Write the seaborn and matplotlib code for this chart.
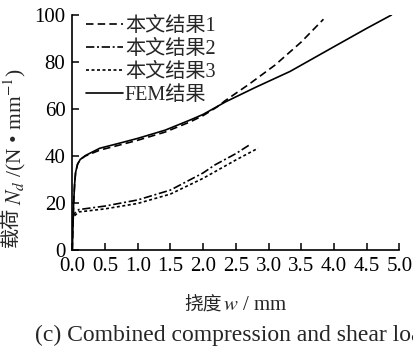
import numpy as np
import pandas as pd
import matplotlib
matplotlib.use("Agg")
import matplotlib.pyplot as plt
import seaborn as sns

# ---- data ----
fem_x = [0.0, 0.01, 0.02, 0.035, 0.05, 0.08, 0.12, 0.2, 0.42, 0.7, 1.0, 1.42, 1.8, 2.0, 2.34, 2.8, 3.33, 4.0, 4.5, 4.88]
fem_y = [0.0, 10.0, 20.0, 28.0, 33.0, 36.5, 38.5, 40.2, 43.3, 45.3, 47.5, 51.0, 55.3, 57.7, 63.0, 69.2, 76.0, 86.5, 94.3, 100.0]

r1_x = [0.0, 0.01, 0.02, 0.035, 0.05, 0.08, 0.12, 0.2, 0.42, 0.7, 1.0, 1.42, 1.8, 2.0, 2.21, 2.34, 2.7, 3.1, 3.5, 3.84]
r1_y = [0.0, 10.0, 20.0, 28.0, 33.0, 36.5, 38.5, 40.0, 42.5, 44.5, 46.7, 50.2, 54.5, 57.2, 60.8, 63.6, 70.5, 78.7, 88.5, 98.2]

r2_x = [0.0, 0.03, 0.1, 0.5, 1.0, 1.5, 2.0, 2.18, 2.5, 2.73]
r2_y = [13.0, 15.5, 17.2, 18.7, 21.3, 25.5, 32.8, 36.2, 41.0, 45.1]

r3_x = [0.0, 0.03, 0.1, 0.5, 1.0, 1.5, 2.0, 2.18, 2.5, 2.84]
r3_y = [12.5, 14.5, 16.2, 17.5, 19.8, 23.8, 30.5, 33.3, 38.3, 43.3]

labels = ["本文结果1", "本文结果2", "本文结果3", "FEM结果"]
x_ticks = [0.0, 0.5, 1.0, 1.5, 2.0, 2.5, 3.0, 3.5, 4.0, 4.5, 5.0]
y_ticks = [0, 20, 40, 60, 80, 100]
xlabel_parts = ["挠度", "$w$ / mm"]
ylabel_parts = ["载荷", "$N_d$ /(N • mm$^{-1}$)"]
caption = "(c) Combined compression and shear load"

sns.set_theme(style="ticks")
plt.rcParams["font.family"] = ["Liberation Serif", "Noto Sans CJK SC", "DejaVu Sans"]
plt.rcParams["mathtext.fontset"] = "stix"
plt.rcParams["axes.unicode_minus"] = False

W, H = 414, 349
fig = plt.figure(figsize=(W / 100, H / 100), dpi=100)
ax = fig.add_axes([0.1747, 0.2837, 0.7898, 0.6733])

series = [
    (r1_x, r1_y, labels[0], (0, (4.5, 2.5))),
    (r2_x, r2_y, labels[1], (0, (5, 1.6, 1.2, 1.6))),
    (r3_x, r3_y, labels[2], (0, (1.8, 1.5))),
    (fem_x, fem_y, labels[3], "-"),
]
for xs, ys, lab, ls in series:
    df = pd.DataFrame({"w": xs, "N": ys})
    sns.lineplot(data=df, x="w", y="N", ax=ax, color="black", linewidth=1.2,
                 linestyle=ls, label=lab, sort=False, estimator=None)

ax.set_xlim(0, 5.0)
ax.set_ylim(0, 100)
ax.set_xticks(x_ticks)
ax.set_xticklabels([f"{v:.1f}" for v in x_ticks])
ax.set_yticks(y_ticks)
ax.tick_params(direction="in", length=5, width=1.1, labelsize=15, pad=5, colors="black")
for s in ["top", "right"]:
    ax.spines[s].set_visible(False)
for s in ["left", "bottom"]:
    ax.spines[s].set_linewidth(1.2)
    ax.spines[s].set_color("black")
ax.set_xlabel("")
ax.set_ylabel("")

leg = ax.legend(loc="upper left", bbox_to_anchor=(0.018, 1.028), frameon=False,
                fontsize=14.5, handlelength=1.8, handletextpad=0.12,
                labelspacing=0.2, borderaxespad=0.0)

fig.text(35 / W, 1 - 335 / H, caption, fontsize=17, va="center", ha="left")

# ---- composite labels (CJK + mathtext pieces) ----
renderer = fig.canvas.get_renderer()

# x label: centred at x=235 px
xa = fig.text(0, 1 - 310 / H, xlabel_parts[0], fontsize=13.5, ha="left", va="baseline")
xb = fig.text(0, 1 - 310 / H, xlabel_parts[1], fontsize=15, ha="left", va="baseline")
wa = xa.get_window_extent(renderer).width
wb = xb.get_window_extent(renderer).width
x0 = 235 - (wa + wb) / 2
xa.set_x(x0 / W)
xb.set_x((x0 + wa + 1) / W)

# y label: rotated, bottom at y=247 px
ya = fig.text(13 / W, 1 - 247 / H, ylabel_parts[0], fontsize=14.5, rotation=90,
              ha="center", va="bottom")
ha_ = ya.get_window_extent(renderer).height
yb = fig.text(15 / W, 1 - (247 - ha_ - 2) / H, ylabel_parts[1], fontsize=15.5, rotation=90,
              ha="center", va="bottom")

fig.savefig("out.png", dpi=100)
